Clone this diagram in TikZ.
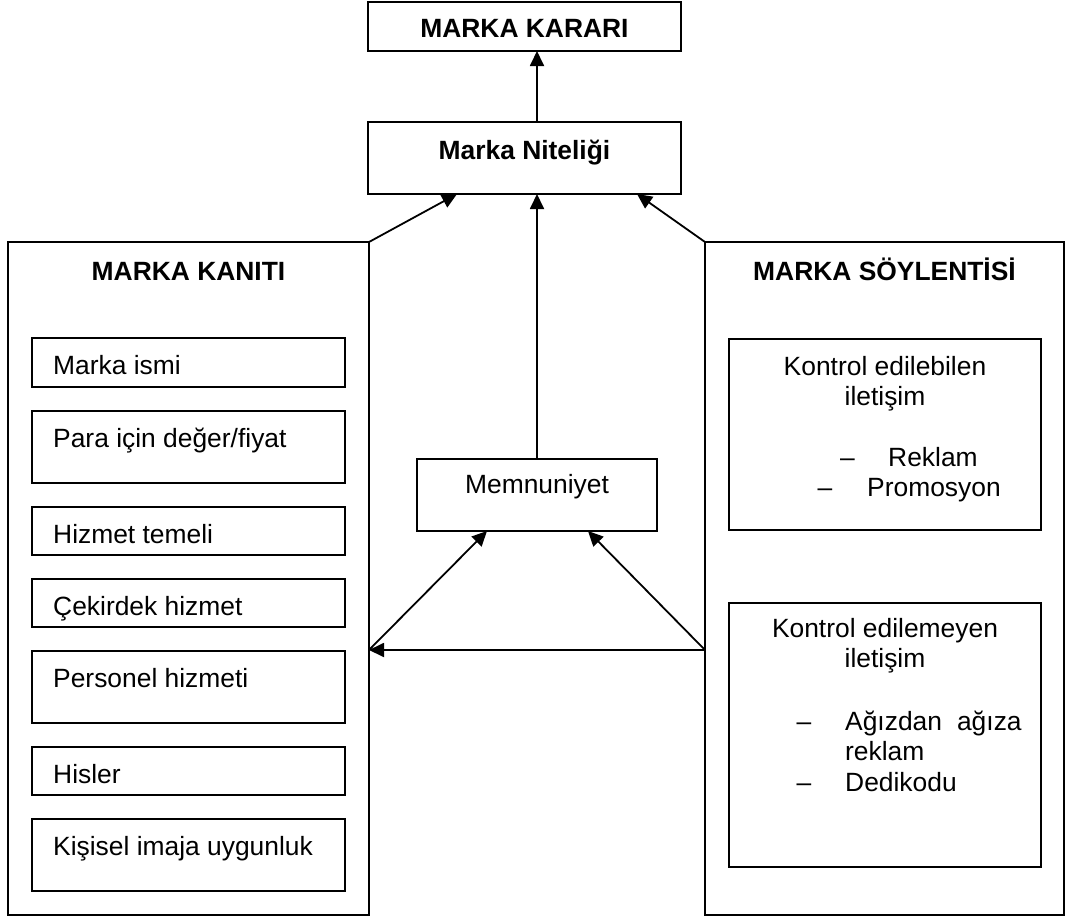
\documentclass[tikz,border=0pt]{standalone}
\usepackage{fontspec}
\setmainfont{Liberation Sans}
\usetikzlibrary{arrows.meta}
\begin{document}
\begin{tikzpicture}[x=1pt,y=-1pt,
  frame/.style={draw, line width=1.8pt, rectangle, inner sep=0pt, outer sep=0pt, anchor=north west},
  txt/.style={anchor=base, inner sep=0pt, font=\fontsize{26.4}{30.4}\selectfont},
  txtw/.style={txt, anchor=base west},
  ttl/.style={anchor=base, inner sep=0pt, font=\fontsize{26.4}{30.4}\selectfont\bfseries},
  arr/.style={line width=1.8pt, -{Triangle[length=15pt,width=14pt]}}]
\useasboundingbox (0,0) rectangle (1069,918);
\fill[white] (0,0) rectangle (1069,918);

% top boxes
\node[frame, minimum width=313pt, minimum height=49pt] (karar) at (368,2) {};
\node[frame, minimum width=313pt, minimum height=72pt] (nitelik) at (368,122) {};
\node[ttl] (kararT) at (524.5,37) {MARKA KARARI};
\node[ttl] (nitelikT) at (524.5,159) {Marka Niteliği};

% the two large side panels
\node[frame, minimum width=361pt, minimum height=673pt] (kanit) at (8,242) {};
\node[frame, minimum width=359pt, minimum height=673pt] (soylenti) at (705,242) {};
\node[ttl] (kanitT) at (188.5,280) {MARKA KANITI};
\node[ttl] (soylentiT) at (884.5,280) {MARKA SÖYLENTİSİ};

% satisfaction box in the middle
\node[frame, minimum width=240pt, minimum height=72pt] (memnun) at (417,459) {};
\node[txt] (memnunT) at (537,493) {Memnuniyet};

% evidence items
\node[frame, minimum width=313pt, minimum height=49pt] (isim) at (32,338) {};
\node[txtw] at (53,374) {Marka ismi};
\node[frame, minimum width=313pt, minimum height=72pt] (para) at (32,411) {};
\node[txtw] at (53,447) {Para için değer/fiyat};
\node[frame, minimum width=313pt, minimum height=48pt] (temel) at (32,507) {};
\node[txtw] at (53,543) {Hizmet temeli};
\node[frame, minimum width=313pt, minimum height=48pt] (cekirdek) at (32,579) {};
\node[txtw] at (53,615) {Çekirdek hizmet};
\node[frame, minimum width=313pt, minimum height=72pt] (personel) at (32,651) {};
\node[txtw] at (53,687) {Personel hizmeti};
\node[frame, minimum width=313pt, minimum height=48pt] (hisler) at (32,747) {};
\node[txtw] at (53,783) {Hisler};
\node[frame, minimum width=313pt, minimum height=72pt] (kisisel) at (32,819) {};
\node[txtw] at (53,855) {Kişisel imaja uygunluk};

% communication items
\node[frame, minimum width=312pt, minimum height=191pt] (kontrol) at (729,339) {};
\node[txt] at (885,375) {Kontrol edilebilen};
\node[txt] at (885,405.4) {iletişim};
\node[txt] at (847.5,466.2) {–};
\node[txtw] at (888,466.2) {Reklam};
\node[txt] at (825,496.6) {–};
\node[txtw] at (867,496.6) {Promosyon};

\node[frame, minimum width=312pt, minimum height=264pt] (serbest) at (729,603) {};
\node[txt] at (885,637) {Kontrol edilemeyen};
\node[txt] at (885,667.4) {iletişim};
\node[txt] at (804,730) {–};
\node[txtw] at (845,730) {Ağızdan\hskip 15pt ağıza};
\node[txtw] at (845,760.4) {reklam};
\node[txt] at (804,791) {–};
\node[txtw] at (845,791) {Dedikodu};

% connector end points
\coordinate (nl) at (457,194);
\coordinate (nr) at (637,194);
\coordinate (lj) at (369,650);
\coordinate (rj) at (705,650);
\coordinate (ml) at (487,531);
\coordinate (mr) at (588,531);

% arrows
\draw[arr] (nitelik.north -| memnun.north) -- (karar.south -| memnun.north);
\draw[arr] (memnun.north) -- (nitelik.south -| memnun.north);
\draw[arr] (kanit.north east) -- (nl);
\draw[arr] (soylenti.north west) -- (nr);
\draw[arr] (rj) -- (lj);
\draw[arr] (lj) -- (ml);
\draw[arr] (rj) -- (mr);
\end{tikzpicture}
\end{document}
